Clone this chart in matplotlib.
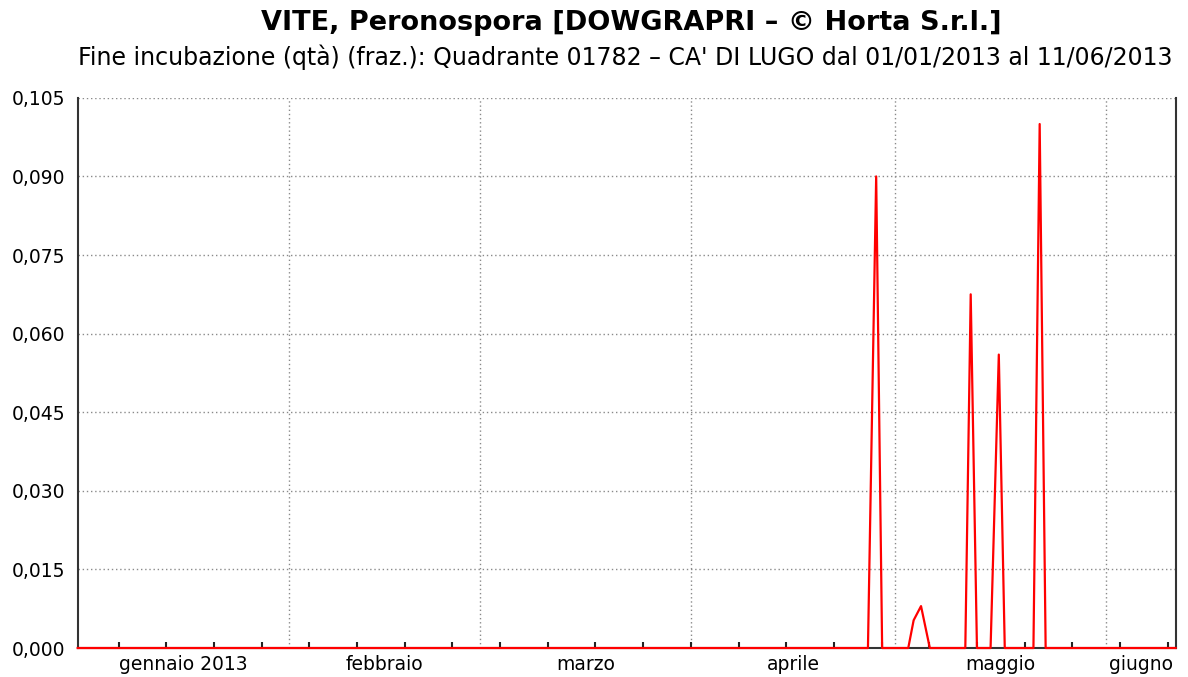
import numpy as np
import pandas as pd
import matplotlib
matplotlib.use('Agg')
import matplotlib.pyplot as plt
import matplotlib.dates as mdates

# series (0 everywhere except the peaks)
times = ['2013-01-01 00:00', '2013-04-27 00:00', '2013-04-28 05:00', '2013-04-29 02:00',
         '2013-05-02 22:00', '2013-05-03 17:00', '2013-05-04 19:00', '2013-05-06 02:00',
         '2013-05-11 07:00', '2013-05-12 02:00', '2013-05-13 00:00',
         '2013-05-15 00:00', '2013-05-16 05:00', '2013-05-17 02:00',
         '2013-05-21 07:00', '2013-05-22 05:00', '2013-05-23 02:00',
         '2013-06-11 04:00']
values = [0, 0, 0.090, 0,
          0, 0.0053, 0.008, 0,
          0, 0.0675, 0,
          0, 0.056, 0,
          0, 0.100, 0,
          0]

month_starts = ['2013-02-01', '2013-03-01', '2013-04-01', '2013-05-01', '2013-06-01']
month_names = ['gennaio 2013', 'febbraio', 'marzo', 'aprile', 'maggio', 'giugno']
y_ticks = [0.0, 0.015, 0.030, 0.045, 0.060, 0.075, 0.090, 0.105]

title = 'VITE, Peronospora [DOWGRAPRI – © Horta S.r.l.]'
subtitle = "Fine incubazione (qtà) (fraz.): Quadrante 01782 – CA' DI LUGO dal 01/01/2013 al 11/06/2013"

t = pd.to_datetime(times)
x0, x1 = t[0], t[-1]

fig = plt.figure(figsize=(11.88, 6.77), dpi=100)
ax = fig.add_axes([0.0654, 0.0428, 0.9242, 0.8127])

# grid
for m in pd.to_datetime(month_starts):
    ax.axvline(m, color='#8a8a8a', lw=1, ls=(0, (1, 2)), zorder=1)
for yv in y_ticks:
    ax.axhline(yv, color='#8a8a8a', lw=1, ls=(0, (1, 2)), zorder=1)

ax.plot(t, values, color='#ff0000', lw=1.6, zorder=3, clip_on=False)

ax.set_xlim(x0, x1)
ax.set_ylim(0, 0.105)

# month labels centred on the visible part of each month
edges = [x0] + list(pd.to_datetime(month_starts)) + [x1]
mids = [edges[i] + (edges[i + 1] - edges[i]) / 2 for i in range(len(edges) - 1)]
ax.set_xticks(mids)
ax.set_xticklabels(month_names)
ax.tick_params(axis='x', which='major', length=0, pad=5, labelsize=13.5)

# weekly ticks pointing in
ax.xaxis.set_minor_locator(mdates.WeekdayLocator(byweekday=mdates.MO))
ax.tick_params(axis='x', which='minor', direction='in', length=4, width=1.5, color='#222222')

ax.set_yticks(y_ticks)
ax.set_yticklabels([('%.3f' % v).replace('.', ',') for v in y_ticks])
ax.tick_params(axis='y', length=0, pad=9, labelsize=13.5)

for s in ['left', 'right', 'bottom']:
    ax.spines[s].set_color('#333333')
    ax.spines[s].set_linewidth(1.5)
ax.spines['top'].set_visible(False)

fig.text(0.531, 0.966, title, ha='center', va='center', fontsize=19.5, fontweight='bold')
fig.text(0.526, 0.915, subtitle, ha='center', va='center', fontsize=17)

fig.savefig('out.png', dpi=100)
